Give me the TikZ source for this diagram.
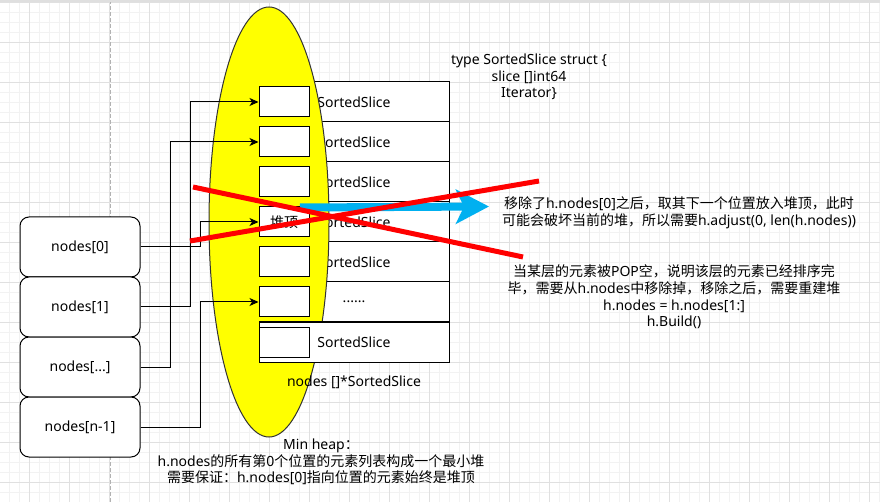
\documentclass[tikz,border=0pt]{standalone}
\usepackage{fontspec}
\setmainfont{Noto Sans}
\newfontfamily\cjkfont{Noto Sans CJK SC}
\newcommand\cj[1]{{\cjkfont #1}}
\usetikzlibrary{arrows.meta}
\definecolor{gridmin}{HTML}{F2F2F2}
\definecolor{gridmaj}{HTML}{E0E0E0}
\definecolor{arrowblue}{HTML}{00B0F0}
\definecolor{crossred}{HTML}{FF0000}
\definecolor{heapyellow}{HTML}{FFFF00}
\tikzset{
  txt/.style={font=\fontsize{14}{16.7}\selectfont, inner sep=0pt, align=center},
  rowbox/.style={draw=black, line width=1pt, fill=white, minimum width=190pt, minimum height=40pt, inner sep=0pt, font=\fontsize{14}{16.7}\selectfont},
  ptrbox/.style={draw=black, line width=1pt, fill=white, minimum width=50pt, minimum height=30pt, inner sep=0pt, font=\fontsize{14}{16.7}\selectfont},
  nodebox/.style={draw=black, line width=1pt, fill=white, rounded corners=9pt, minimum width=120pt, minimum height=60pt, inner sep=0pt, font=\fontsize{14}{16.7}\selectfont},
  conn/.style={draw=black, line width=1pt, -{Stealth[length=9pt,width=8pt,inset=2.5pt]}},
  cross/.style={draw=crossred, line width=5pt},
}
\begin{document}
\begin{tikzpicture}[x=1pt,y=-1pt]
\useasboundingbox (0,0) rectangle (880,502);
\fill[white] (0,0) rectangle (880,502);
% grid
\foreach \x in {9.5,19.5,...,879.5} \draw[gridmin, line width=1pt] (\x,0) -- (\x,502);
\foreach \y in {12.7,22.7,...,502} \draw[gridmin, line width=1pt] (0,\y) -- (880,\y);
\foreach \x in {29.5,69.5,...,879.5} \draw[gridmaj, line width=1pt] (\x,0) -- (\x,502);
\foreach \y in {2.7,42.7,...,502} \draw[gridmaj, line width=1pt] (0,\y) -- (880,\y);
\draw[gray!60, line width=1pt, dash pattern=on 4pt off 2pt] (110,0) -- (110,502);
\fill[gray!25] (0,0) rectangle (880,2);
% rows behind the ellipse
\node[rowbox] (r0) at (354,102) {SortedSlice};
\node[rowbox] (r1) at (354,142) {SortedSlice};
\node[rowbox] (r2) at (354,182) {SortedSlice};
\node[rowbox] (r3) at (354,222) {SortedSlice};
\node[rowbox] (r4) at (354,262) {SortedSlice};
\node[rowbox] (r5) at (354,302) {......};
% ellipse
\filldraw[fill=heapyellow, draw=black!80, line width=1pt] (269,222) ellipse [x radius=60, y radius=215];
\node[rowbox] (r6) at (354,342) {SortedSlice};
% pointer boxes
\node[ptrbox] (b0) at (284,102) {};
\node[ptrbox] (b1) at (284,142) {};
\node[ptrbox] (b2) at (284,182) {};
\node[ptrbox] (b3) at (284,222) {\cj{堆顶}};
\node[ptrbox] (b4) at (284,262) {};
\node[ptrbox] (b5) at (284,302) {};
\node[ptrbox] (b6) at (284,342) {};
\node[txt] (lbl) at (354,382) {nodes []*SortedSlice};
% left nodes
\node[nodebox] (n0) at (80,247) {nodes[0]};
\node[nodebox] (n1) at (80,307) {nodes[1]};
\node[nodebox] (n2) at (80,367) {nodes[...]};
\node[nodebox] (n3) at (80,427) {nodes[n-1]};
% connectors
\draw[conn] (n0.east) -- ++(60,0) |- (b3.west);
\draw[conn] (n1.east) -- ++(50,0) |- (b0.west);
\draw[conn] (n2.east) -- ++(30,0) |- (b1.west);
\draw[conn] (n3.east) -- ++(60,0) |- (b5.west);
% texts
\node[txt] (typ) at (529,77) {type SortedSlice struct \{\\slice []int64\\Iterator\}};
\node[txt] (t1) at (679,212.5) {\cj{移除了}h.nodes[0]\cj{之后，取其下一个位置放入堆顶，此时}\\\cj{可能会破坏当前的堆，所以需要}h.adjust(0, len(h.nodes))};
\node[txt] (t2) at (674,297) {\cj{当某层的元素被}POP\cj{空，说明该层的元素已经排序完}\\\cj{毕，需要从}h.nodes\cj{中移除掉，移除之后，需要重建堆}\\h.nodes = h.nodes[1:]\\h.Build()};
\node[txt] (t3) at (321,462) {Min heap\cj{：}\\h.nodes\cj{的所有第}0\cj{个位置的元素列表构成一个最小堆}\\\cj{需要保证：}h.nodes[0]\cj{指向位置的元素始终是堆顶}};
% blue arrow
\coordinate (bs) at (300,207.5);
\coordinate (be) at (489,206.5);
\draw[arrowblue, line width=8pt, -{Stealth[length=33pt,width=34pt,inset=8pt]}] (bs) -- (be);
% red cross
\coordinate (ca1) at (193,187);
\coordinate (ca2) at (523,257);
\coordinate (cb1) at (190,241);
\coordinate (cb2) at (539,181);
\draw[cross] (ca1) -- (ca2);
\draw[cross] (cb1) -- (cb2);
\end{tikzpicture}
\end{document}
